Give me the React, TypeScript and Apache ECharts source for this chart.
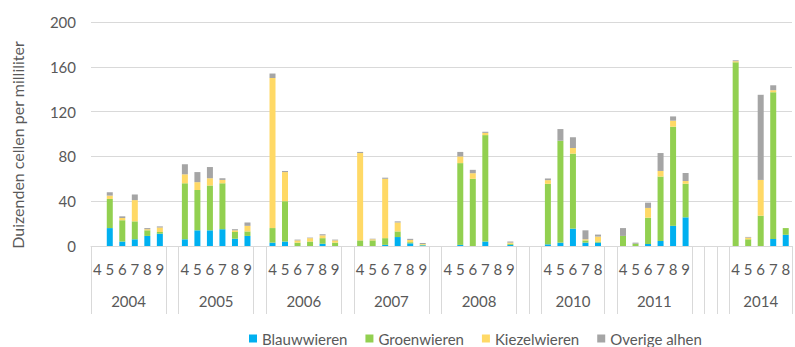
import React, { useEffect, useRef } from "react";
import * as echarts from "echarts";

// Category structure (Excel multi-level axis: month inside year, blank spacer groups)
const groupYears = ["2004", "", "2005", "", "2006", "", "2007", "", "2008", "", "", "2010", "", "2011", "", "", "", "2014"];
const groupMonths: string[][] = [
  ["4", "5", "6", "7", "8", "9"], [""],
  ["4", "5", "6", "7", "8", "9"], [""],
  ["4", "5", "6", "7", "8", "9"], [""],
  ["4", "5", "6", "7", "8", "9"], [""],
  ["4", "5", "6", "7", "8", "9"], [""], [""],
  ["4", "5", "6", "7", "8"], [""],
  ["4", "5", "6", "7", "8", "9"], [""], [""], [""],
  ["4", "5", "6", "7", "8"],
];

const seriesNames = ["Blauwwieren", "Groenwieren", "Kiezelwieren", "Overige alhen"];

// Values per category (null = spacer / no sample)
const blauwwieren = [
  null, 16, 4, 6, 9, 11, null,
  6, 14, 14, 15, 6.5, 9, null,
  3, 4, 0, 0, 2, 0, null,
  0, 0, 1, 8, 2.4, 0.6, null,
  null, 1, 0, 4, null, 1, null, null,
  1.5, 3, 15.5, 3, 3, null,
  0, 0, 1.8, 4.5, 18, 25.6, null, null, null,
  0, 0, 0, 6.3, 10,
];
const groenwieren = [
  null, 26, 19, 16, 5, 1.5, null,
  50, 36, 40, 41, 6, 4, null,
  13, 36, 3, 4, 5, 3, null,
  5, 5, 6, 5, 1, 0.6, null,
  null, 73, 60, 95, null, 1, null, null,
  54, 91, 67, 2, 1, null,
  9, 2, 23.5, 57.5, 88.5, 30, null, null, null,
  164, 6, 27, 131, 6,
];
const kiezelwieren = [
  null, 3, 2, 19, 1, 4, null,
  8, 7, 6.5, 3, 1.5, 5, null,
  134, 26, 2, 3, 2.5, 2, null,
  78, 1, 53, 8, 2, 0.6, null,
  null, 6, 5, 2, null, 1, null, null,
  3.3, 0, 5, 1, 4.4, null,
  0, 0, 8.7, 5, 5.4, 2.4, null, null, null,
  1, 1.5, 32, 1.8, 0,
];
const overigeAlgen = [
  null, 3, 1.5, 5, 1, 1, null,
  9, 9, 10, 1.5, 1, 3, null,
  4, 1, 0.7, 0.5, 1, 0.7, null,
  1, 0.5, 1, 1, 1, 0.9, null,
  null, 4, 3, 1, null, 1, null, null,
  1.5, 10.4, 9.6, 8, 1.8, null,
  7, 1, 4.7, 16, 3.8, 7.2, null, null, null,
  0.8, 0.6, 76, 4.4, 0,
];

const yTicks = { min: 0, max: 200, interval: 40 };
const colors = ["#00B0F0", "#92D050", "#FFD966", "#A5A5A5"];

export default function App() {
  const ref = useRef<HTMLDivElement>(null);
  useEffect(() => {
    if (!ref.current) return;
    const chart = echarts.init(ref.current, null, { renderer: "svg" });

    const months: string[] = [];
    const boundaries = new Set<number>();
    const yearAtCenter: Record<string, string> = {};
    let idx = 0;
    groupMonths.forEach((g, gi) => {
      boundaries.add(idx);
      const center = idx + g.length / 2;
      if (groupYears[gi]) yearAtCenter[String(center)] = groupYears[gi];
      g.forEach((m) => months.push(m));
      idx += g.length;
    });
    const total = months.length;
    const font = "Lato, 'Open Sans', sans-serif";
    const textColor = "#595959";
    const lineColor = "#D9D9D9";

    const data = [blauwwieren, groenwieren, kiezelwieren, overigeAlgen];

    chart.setOption({
      animation: false,
      textStyle: { fontFamily: font },
      grid: { left: 91, right: 1, top: 22, bottom: 101, containLabel: false },
      legend: {
        data: seriesNames,
        left: 249,
        top: 331,
        padding: 0,
        icon: "rect",
        itemWidth: 8,
        itemHeight: 8,
        itemGap: 18,
        textStyle: { fontFamily: font, fontSize: 15, color: textColor },
      },
      xAxis: [
        {
          type: "category",
          data: months,
          position: "bottom",
          axisLine: { show: true, lineStyle: { color: lineColor } },
          axisTick: {
            show: true,
            length: 68,
            interval: (i: number) => boundaries.has(i),
            lineStyle: { color: lineColor },
          },
          axisLabel: { interval: 0, fontSize: 15, color: textColor, margin: 15, fontFamily: font },
        },
        {
          type: "value",
          position: "bottom",
          min: 0,
          max: total,
          interval: 0.5,
          axisLine: { show: false },
          axisTick: { show: false },
          splitLine: { show: false },
          axisLabel: {
            fontSize: 15,
            color: textColor,
            margin: 47,
            fontFamily: font,
            formatter: (v: number) => yearAtCenter[String(v)] ?? "",
          },
        },
      ],
      yAxis: {
        type: "value",
        min: yTicks.min,
        max: yTicks.max,
        interval: yTicks.interval,
        name: "Duizenden cellen per milliliter",
        nameLocation: "middle",
        nameGap: 66,
        nameTextStyle: { fontSize: 16, color: textColor, fontFamily: font, padding: [0, 22, 0, 0] },
        axisLine: { show: false },
        axisTick: { show: false },
        axisLabel: { fontSize: 15, color: textColor, margin: 15, fontFamily: font },
        splitLine: { lineStyle: { color: lineColor, width: 1 } },
      },
      series: seriesNames.map((name, i) => ({
        name,
        type: "bar",
        stack: "total",
        xAxisIndex: 0,
        barWidth: 6,
        itemStyle: { color: colors[i] },
        data: data[i],
      })),
    });
    return () => chart.dispose();
  }, []);
  return (
    <div
      ref={ref}
      style={{ position: "fixed", left: 0, top: 0, width: 795, height: 347, background: "#fff" }}
    />
  );
}
